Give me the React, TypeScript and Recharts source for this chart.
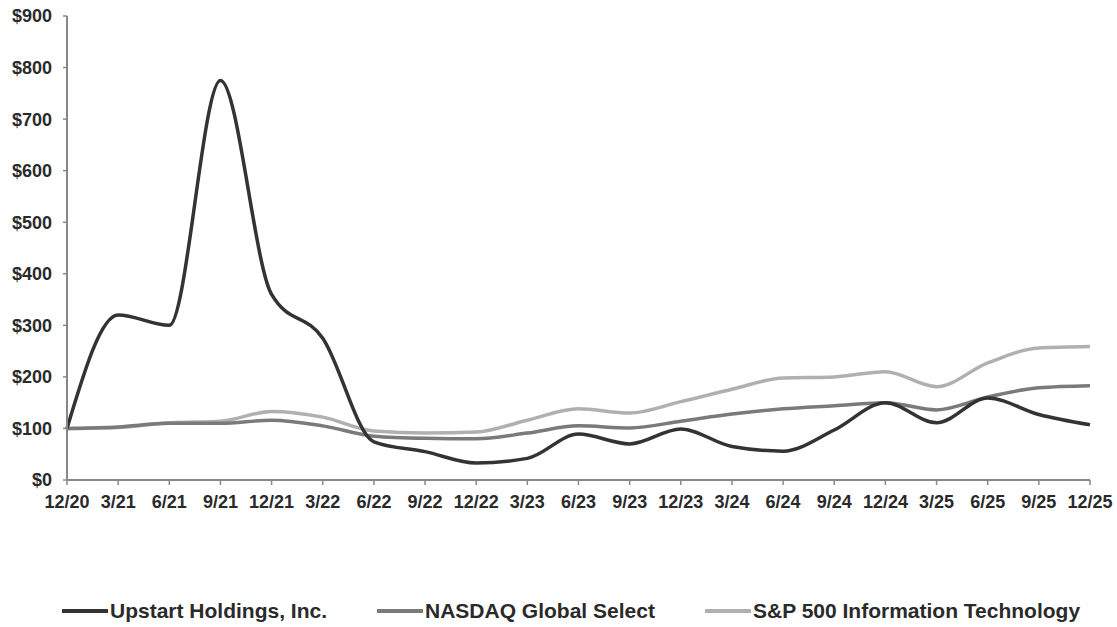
import React from 'react';
import { LineChart, Line, XAxis, YAxis, Legend } from 'recharts';

const categories = ['12/20','3/21','6/21','9/21','12/21','3/22','6/22','9/22','12/22','3/23','6/23','9/23','12/23','3/24','6/24','9/24','12/24','3/25','6/25','9/25','12/25'];
const upstart = [100, 320, 300, 775, 360, 275, 74, 55, 33, 42, 89, 70, 99, 65, 56, 97, 150, 111, 159, 127, 107];
const nasdaq = [100, 103, 110, 110, 116, 105, 85, 81, 80, 91, 105, 101, 114, 128, 138, 144, 150, 136, 161, 179, 183];
const spIT = [100, 102, 111, 114, 133, 122, 95, 91, 93, 116, 138, 130, 152, 176, 198, 200, 210, 181, 227, 256, 259];
const yTicks = [0, 100, 200, 300, 400, 500, 600, 700, 800, 900];

const seriesNames = ['Upstart Holdings, Inc.', 'NASDAQ Global Select', 'S&P 500 Information Technology'];
const seriesColors = ['#333333', '#7a7a7a', '#b0b0b0'];

const data = categories.map((c, i) => ({ date: c, upstart: upstart[i], nasdaq: nasdaq[i], spIT: spIT[i] }));

const legendX = [62, 377, 705];

const LegendContent = () => (
  <div style={{ position: 'relative', width: 1117, height: 30 }}>
    {seriesNames.map((n, i) => (
      <div key={n} style={{ position: 'absolute', left: legendX[i], top: 0, display: 'flex', alignItems: 'center', height: 30 }}>
        <div style={{ width: 46, height: 4, background: seriesColors[i] }} />
        <span style={{ fontFamily: '"Liberation Sans", Arial, sans-serif', fontWeight: 700, fontSize: 21, color: '#2a2a2a', marginLeft: 2, whiteSpace: 'nowrap' }}>{n}</span>
      </div>
    ))}
  </div>
);

export default function App() {
  const tickStyle = { fontFamily: '"Liberation Sans", Arial, sans-serif', fontWeight: 700, fontSize: 18, fill: '#2a2a2a' };
  return (
    <div style={{ position: 'absolute', left: 0, top: 0, background: '#fff' }}>
      <LineChart width={1117} height={627} data={data} margin={{ top: 16, right: 27, left: 0, bottom: 117 }}>
        <XAxis dataKey="date" interval={0} axisLine={{ stroke: '#888', strokeWidth: 2 }} tickLine={{ stroke: '#888', strokeWidth: 1.5 }} tickSize={5} tickMargin={10} tick={tickStyle} height={30} padding={{ left: 0, right: 0 }} />
        <YAxis domain={[0, 900]} ticks={yTicks} interval={0} tickFormatter={(v) => `$${v}`} axisLine={{ stroke: '#888', strokeWidth: 2 }} tickLine={{ stroke: '#888', strokeWidth: 1.5 }} tickSize={4} tickMargin={11} width={67} tick={tickStyle} />
        <Line type="monotone" dataKey="spIT" name={seriesNames[2]} stroke={seriesColors[2]} strokeWidth={3.5} dot={false} isAnimationActive={false} />
        <Line type="monotone" dataKey="nasdaq" name={seriesNames[1]} stroke={seriesColors[1]} strokeWidth={3.5} dot={false} isAnimationActive={false} />
        <Line type="monotone" dataKey="upstart" name={seriesNames[0]} stroke={seriesColors[0]} strokeWidth={3.5} dot={false} isAnimationActive={false} />
        <Legend layout="horizontal" verticalAlign="middle" content={<LegendContent />} wrapperStyle={{ top: 596, left: 0, width: 1117, height: 30 }} />
      </LineChart>
    </div>
  );
}
